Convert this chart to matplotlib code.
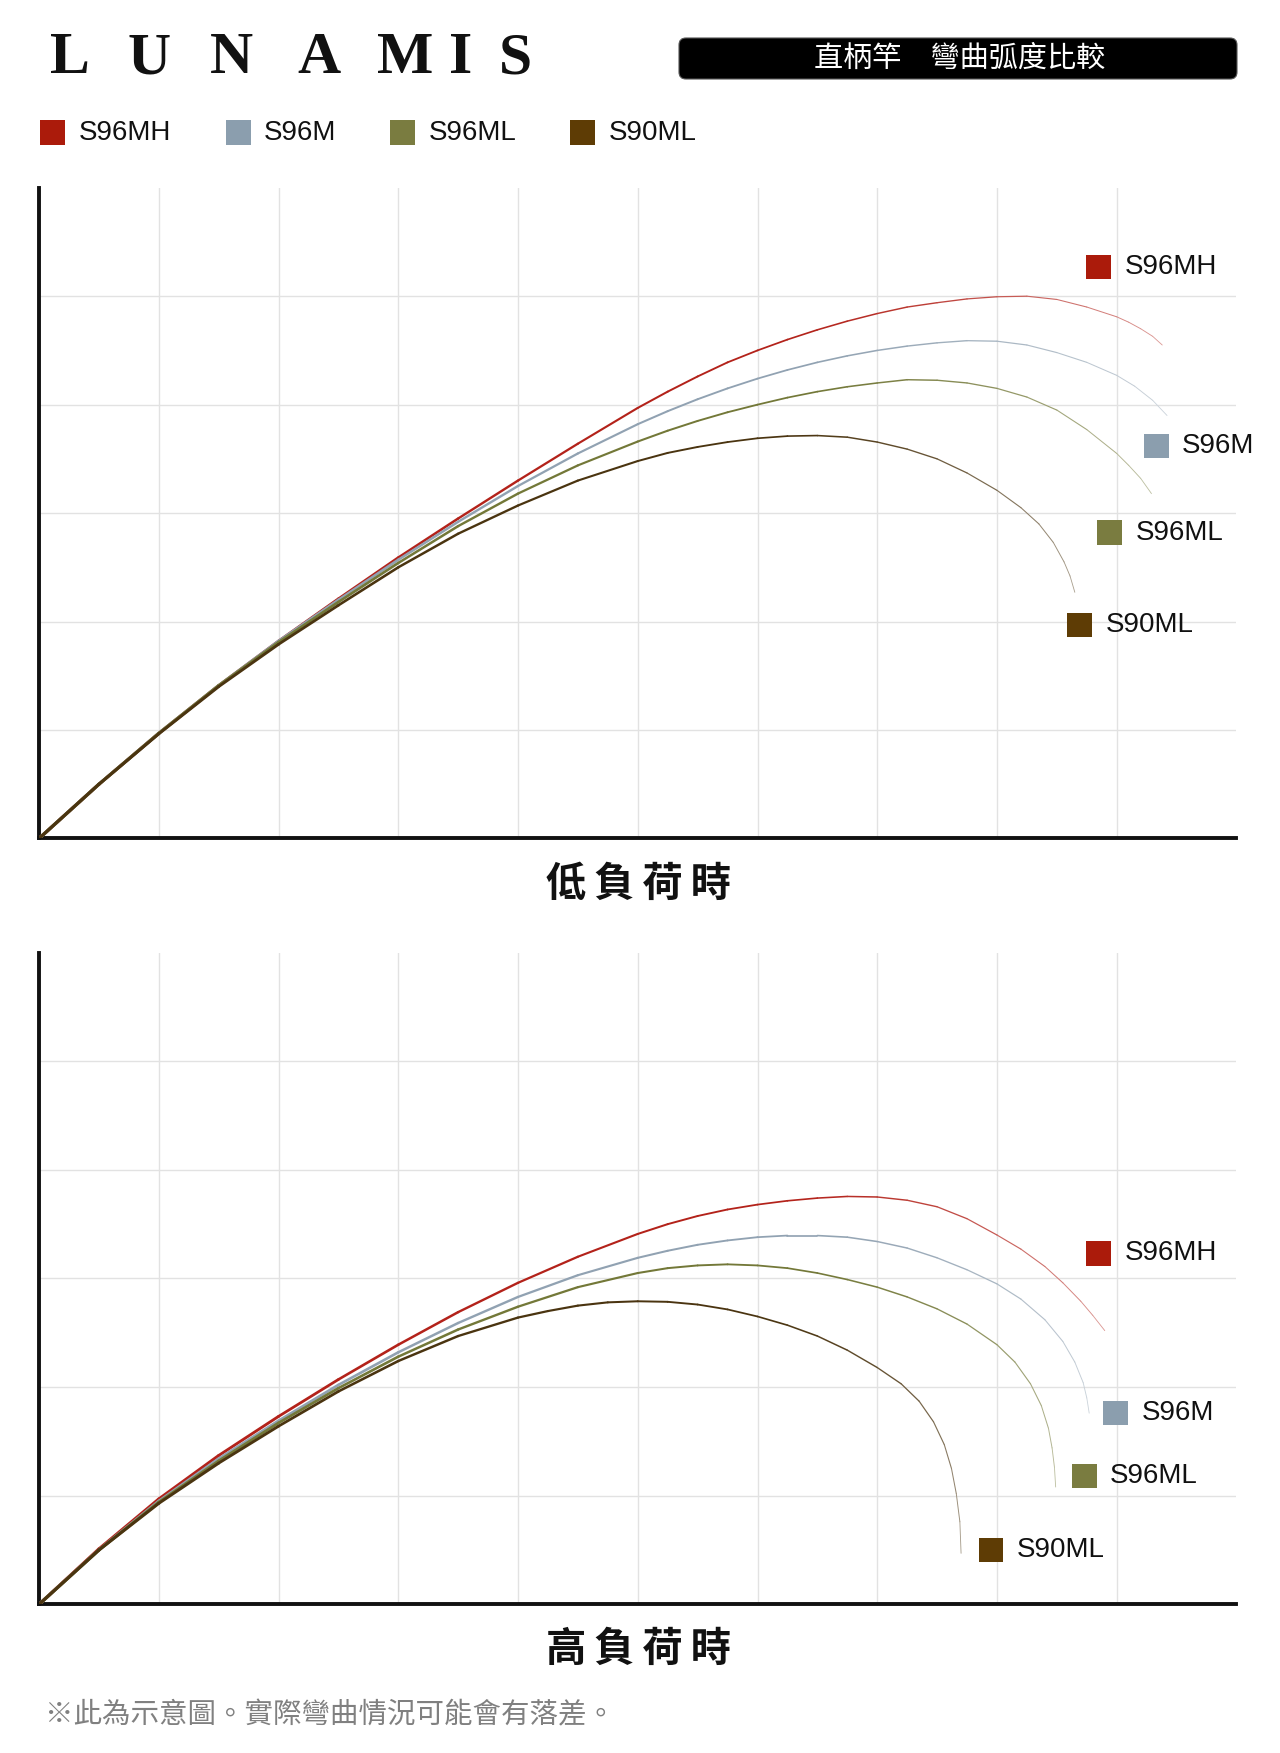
import numpy as np
import matplotlib.pyplot as plt
import matplotlib.colors as mcolors
from matplotlib.collections import LineCollection
from matplotlib.patches import FancyBboxPatch, Rectangle

plt.rcParams['font.family'] = ['Noto Sans CJK TC', 'DejaVu Sans']

models = ['S96MH', 'S96M', 'S96ML', 'S90ML']
key_colors = ['#ab1b0b', '#8b9eae', '#7a7c40', '#5e3c05']
line_colors = ['#b3221a', '#91a2b2', '#737838', '#4a3410']

# 低負荷時 (low load) - rod curves
low_mh_x = [0, .5, 1, 1.5, 2, 2.5, 3, 3.5, 4, 4.5, 5, 5.25, 5.5, 5.75, 6, 6.25, 6.5, 6.75, 7, 7.25, 7.5, 7.75,
            8, 8.25, 8.5, 8.75, 9, 9.1, 9.2, 9.3, 9.38]
low_mh_y = [0, .5, .97, 1.41, 1.82, 2.21, 2.59, 2.95, 3.30, 3.64, 3.97, 4.12, 4.26, 4.39, 4.50, 4.60, 4.69, 4.77, 4.84,
            4.90, 4.94, 4.975, 4.995, 5.0, 4.97, 4.90, 4.81, 4.76, 4.70, 4.63, 4.55]
low_m_x = [0, .5, 1, 1.5, 2, 2.5, 3, 3.5, 4, 4.5, 5, 5.25, 5.5, 5.75, 6, 6.25, 6.5, 6.75, 7, 7.25, 7.5, 7.75,
           8, 8.25, 8.5, 8.75, 9, 9.15, 9.3, 9.42]
low_m_y = [0, .5, .97, 1.41, 1.82, 2.20, 2.57, 2.92, 3.25, 3.55, 3.82, 3.94, 4.05, 4.15, 4.24, 4.32, 4.39, 4.45, 4.50,
           4.54, 4.57, 4.59, 4.585, 4.55, 4.48, 4.39, 4.27, 4.17, 4.04, 3.90]
low_ml_x = [0, .5, 1, 1.5, 2, 2.5, 3, 3.5, 4, 4.5, 5, 5.25, 5.5, 5.75, 6, 6.25, 6.5, 6.75, 7, 7.25, 7.5, 7.75,
            8, 8.25, 8.5, 8.75, 9, 9.1, 9.2, 9.29]
low_ml_y = [0, .5, .97, 1.41, 1.81, 2.18, 2.54, 2.88, 3.18, 3.44, 3.66, 3.76, 3.85, 3.93, 4.00, 4.065, 4.12, 4.165, 4.20,
            4.23, 4.225, 4.20, 4.15, 4.07, 3.95, 3.77, 3.55, 3.44, 3.32, 3.18]
low_90_x = [0, .5, 1, 1.5, 2, 2.5, 3, 3.5, 4, 4.5, 5, 5.25, 5.5, 5.75, 6, 6.25, 6.5, 6.75, 7, 7.25, 7.5, 7.75,
            8, 8.2, 8.35, 8.47, 8.56, 8.61, 8.65]
low_90_y = [0, .5, .965, 1.40, 1.79, 2.15, 2.50, 2.81, 3.07, 3.30, 3.48, 3.555, 3.61, 3.655, 3.69, 3.71, 3.715, 3.70,
            3.655, 3.59, 3.50, 3.37, 3.21, 3.05, 2.90, 2.73, 2.55, 2.42, 2.27]

# 高負荷時 (high load)
high_mh_x = [0, .5, 1, 1.5, 2, 2.5, 3, 3.5, 4, 4.5, 5, 5.25, 5.5, 5.75, 6, 6.25, 6.5, 6.75, 7, 7.25, 7.5, 7.75,
             8, 8.2, 8.4, 8.55, 8.7, 8.8, 8.9]
high_mh_y = [0, .51, .97, 1.37, 1.73, 2.07, 2.39, 2.69, 2.96, 3.20, 3.41, 3.50, 3.575, 3.635, 3.68, 3.715, 3.74, 3.755,
             3.75, 3.72, 3.66, 3.55, 3.40, 3.27, 3.11, 2.96, 2.79, 2.66, 2.52]
high_m_x = [0, .5, 1, 1.5, 2, 2.5, 3, 3.5, 4, 4.5, 5, 5.25, 5.5, 5.75, 6, 6.25, 6.5, 6.75, 7, 7.25, 7.5, 7.75,
            8, 8.2, 8.4, 8.55, 8.65, 8.72, 8.75, 8.77]
high_m_y = [0, .50, .95, 1.34, 1.69, 2.02, 2.32, 2.59, 2.83, 3.03, 3.19, 3.255, 3.31, 3.35, 3.38, 3.395, 3.395, 3.38,
            3.34, 3.28, 3.19, 3.08, 2.95, 2.81, 2.62, 2.42, 2.23, 2.04, 1.90, 1.76]
high_ml_x = [0, .5, 1, 1.5, 2, 2.5, 3, 3.5, 4, 4.5, 5, 5.25, 5.5, 5.75, 6, 6.25, 6.5, 6.75, 7, 7.25, 7.5, 7.75,
             8, 8.15, 8.28, 8.37, 8.43, 8.46, 8.48, 8.49]
high_ml_y = [0, .50, .94, 1.32, 1.67, 1.99, 2.28, 2.53, 2.74, 2.92, 3.05, 3.095, 3.12, 3.13, 3.12, 3.095, 3.05, 2.99,
             2.92, 2.83, 2.72, 2.58, 2.39, 2.23, 2.03, 1.83, 1.62, 1.44, 1.26, 1.08]
high_90_x = [0, .5, 1, 1.5, 2, 2.5, 3, 3.5, 4, 4.25, 4.5, 4.75, 5, 5.25, 5.5, 5.75, 6, 6.25, 6.5, 6.75, 7, 7.2,
             7.35, 7.47, 7.56, 7.62, 7.66, 7.69, 7.70]
high_90_y = [0, .50, .93, 1.30, 1.64, 1.96, 2.24, 2.47, 2.64, 2.70, 2.75, 2.78, 2.79, 2.785, 2.76, 2.715, 2.65, 2.57,
             2.47, 2.34, 2.18, 2.03, 1.87, 1.68, 1.47, 1.25, 1.02, 0.76, 0.47]

# where the model tags sit inside each panel
low_tag_x = [8.85, 9.33, 8.94, 8.69]
low_tag_y = [5.27, 3.62, 2.82, 1.97]
high_tag_x = [8.85, 8.99, 8.73, 7.95]
high_tag_y = [3.23, 1.76, 1.18, 0.50]

legend_sq_x = [40, 226, 390, 570]
legend_txt_x = [79, 264, 429, 609]

logo_letters = list('LUNAMIS')
logo_cx = [70, 149, 231, 319, 405, 461, 515]


def draw_rod(ax, xs, ys, color):
    pts = np.column_stack([xs, ys])
    segs = np.stack([pts[:-1], pts[1:]], axis=1)
    # rod tapers and fades toward the tip
    d = np.hypot(np.diff(pts[:, 0]) * 120, np.diff(pts[:, 1]) * 108)
    s = np.concatenate([[0], np.cumsum(d)])
    t = (s[:-1] + s[1:]) / 2 / s[-1]
    widths = 2.3 - 1.7 * t ** 1.3
    fade = np.clip((t - 0.7) / 0.3, 0, 1) ** 1.4 * 0.55
    base = np.array(mcolors.to_rgb(color))
    cols = base[None, :] * (1 - fade[:, None]) + fade[:, None]
    lc = LineCollection(segs, linewidths=widths, colors=cols,
                        capstyle='round', zorder=3)
    ax.add_collection(lc)


def draw_panel(ax, curves, tag_x, tag_y):
    ax.set_xlim(0, 10)
    ax.set_ylim(0, 6)
    ax.set_xticks(range(1, 10))
    ax.set_yticks(range(1, 6))
    ax.grid(True, color='#e2e2e2', linewidth=1.0)
    ax.tick_params(length=0, labelbottom=False, labelleft=False)
    for side in ['top', 'right']:
        ax.spines[side].set_visible(False)
    for side in ['left', 'bottom']:
        ax.spines[side].set_linewidth(2.8)
        ax.spines[side].set_color('#111111')
    for (xs, ys), c in zip(curves, line_colors):
        draw_rod(ax, xs, ys, c)
    ax.scatter(tag_x, tag_y, marker='s', s=17.7 ** 2, c=key_colors,
               linewidths=0, clip_on=False, zorder=4)
    for name, x, y in zip(models, tag_x, tag_y):
        ax.annotate(name, (x, y), xytext=(18.6, 0), textcoords='offset points',
                    ha='left', va='center', fontsize=20, color='#111111',
                    family='Liberation Sans', annotation_clip=False)


fig = plt.figure(figsize=(12.8, 17.53), dpi=100)

# overlay for header, captions (pixel coordinates)
hdr = fig.add_axes([0, 0, 1, 1])
hdr.set_xlim(0, 1280)
hdr.set_ylim(1753, 0)
hdr.axis('off')
hdr.patch.set_alpha(0)

for ch, cx in zip(logo_letters, logo_cx):
    hdr.text(cx, 59, ch, ha='center', va='center', fontsize=43,
             family='Liberation Serif', weight='bold', color='#111111')

hdr.add_patch(FancyBboxPatch((679, 38), 558, 41,
                             boxstyle='round,pad=0,rounding_size=7',
                             facecolor='black', edgecolor='#555555', linewidth=0.8))
hdr.text(960, 59, '直柄竿　彎曲弧度比較', ha='center', va='center',
         fontsize=21, color='white')

for sx, tx, name, c in zip(legend_sq_x, legend_txt_x, models, key_colors):
    hdr.add_patch(Rectangle((sx, 120), 25, 24.5, facecolor=c, edgecolor='none'))
    hdr.text(tx, 132.5, name, ha='left', va='center', fontsize=20,
             family='Liberation Sans', color='#111111')

hdr.text(639, 884, '低\u2009負\u2009荷\u2009時', ha='center', va='center',
         fontsize=29, weight='bold', color='#111111')
hdr.text(639, 1649, '高\u2009負\u2009荷\u2009時', ha='center', va='center',
         fontsize=29, weight='bold', color='#111111')
hdr.text(45, 1715, '※此為示意圖。實際彎曲情況可能會有落差。', ha='left', va='center',
         fontsize=20.5, color='#808080')

ax1 = fig.add_axes([0.0305, 0.5217, 0.9355, 0.3712])
draw_panel(ax1, [(low_mh_x, low_mh_y), (low_m_x, low_m_y),
                 (low_ml_x, low_ml_y), (low_90_x, low_90_y)],
           low_tag_x, low_tag_y)

ax2 = fig.add_axes([0.0305, 0.0848, 0.9355, 0.3718])
draw_panel(ax2, [(high_mh_x, high_mh_y), (high_m_x, high_m_y),
                 (high_ml_x, high_ml_y), (high_90_x, high_90_y)],
           high_tag_x, high_tag_y)

fig.savefig('out.png', dpi=100, facecolor='white')
